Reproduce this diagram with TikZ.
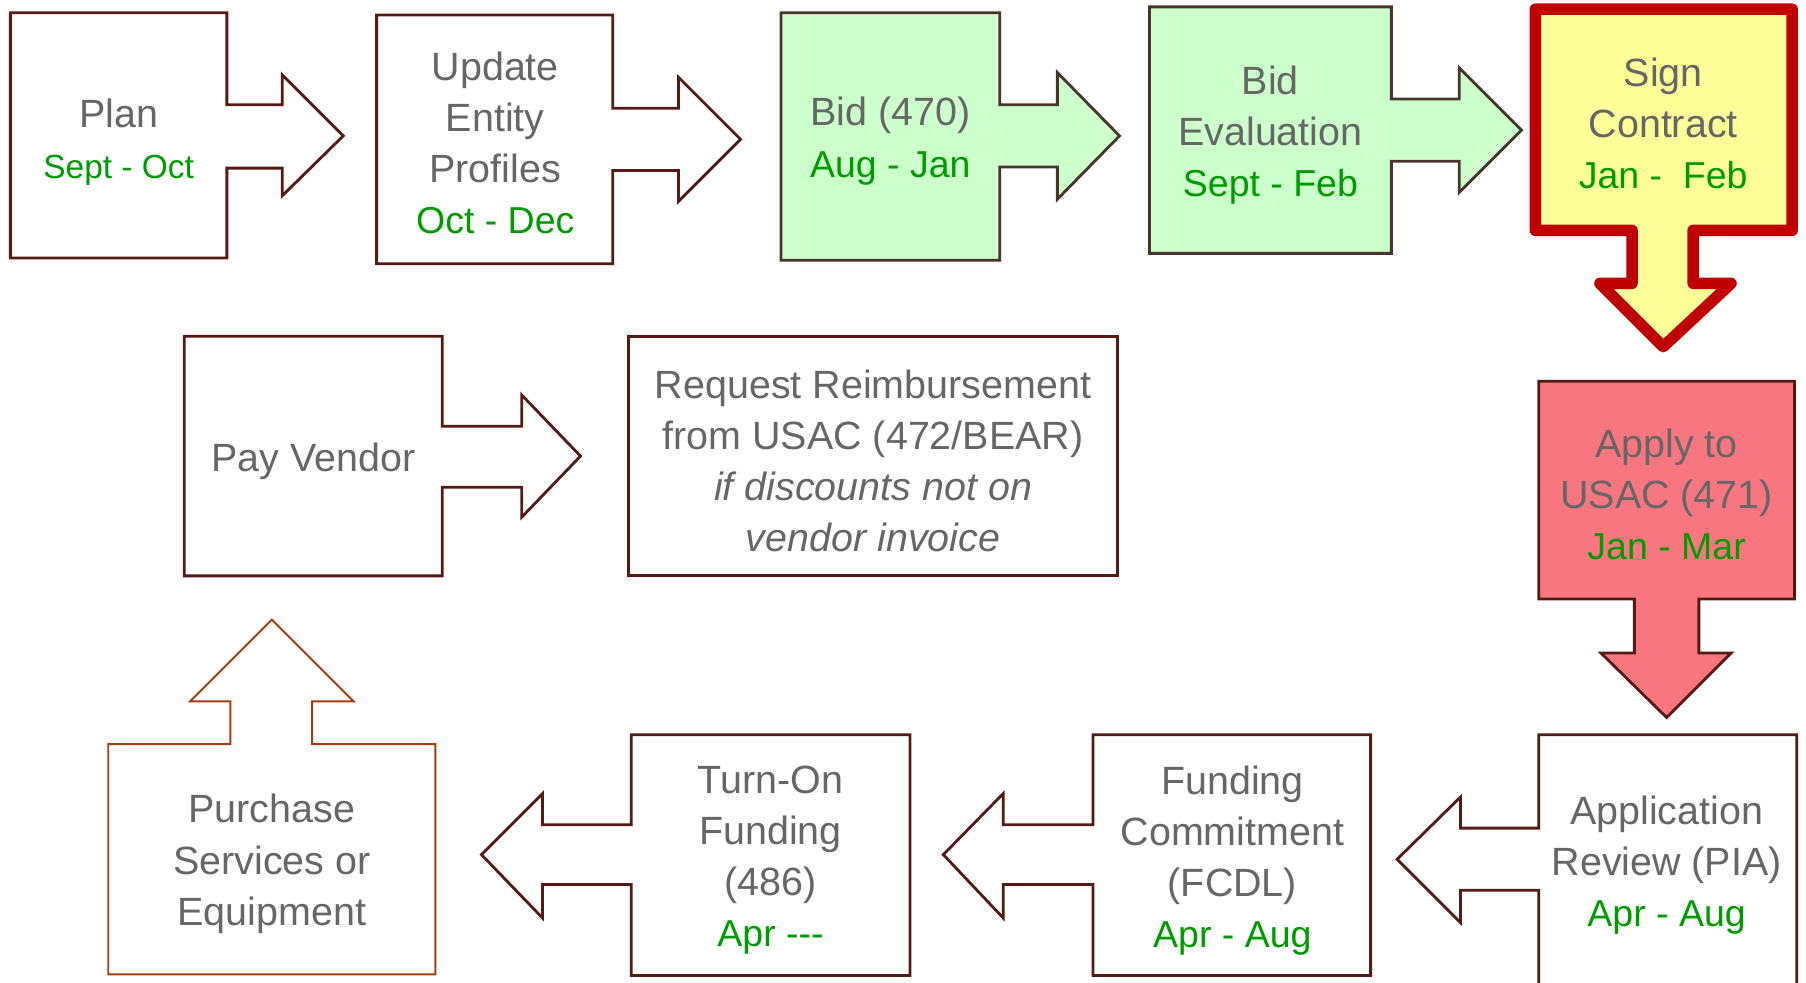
\documentclass[tikz,border=0pt]{standalone}
\usepackage{fontspec}
\setmainfont{Liberation Sans}
\definecolor{edge}{RGB}{85,26,22}
\definecolor{bidedge}{RGB}{72,52,44}
\definecolor{signred}{RGB}{192,0,0}
\definecolor{buyedge}{RGB}{165,60,20}
\definecolor{bidfill}{RGB}{204,255,204}
\definecolor{signfill}{RGB}{255,255,153}
\definecolor{applyfill}{RGB}{248,118,128}
\definecolor{textgray}{RGB}{102,102,102}
\definecolor{dategreen}{RGB}{0,155,0}
\newcommand{\dates}[2][21.3]{{\color{dategreen}\fontsize{#1}{29}\selectfont #2}}

\begin{document}
\begin{tikzpicture}[x=0.023cm,y=-0.023cm,line join=miter,
  callout/.style={draw=edge,line width=1.6pt},
  txt/.style={align=center,text=textgray,inner sep=0pt,font=\fontsize{22.4}{29}\selectfont}]
\useasboundingbox (0,0) rectangle (1568,852.6);
% top row, left to right
\draw[callout] (9,11) -- (197,11) -- (197,91) -- (245,91) -- (245,65) -- (298,118) -- (245,170) -- (245,146) -- (197,146) -- (197,224) -- (9,224) -- cycle;
\draw[callout] (327,13) -- (532,13) -- (532,94) -- (589,94) -- (589,67) -- (643,121) -- (589,175) -- (589,148) -- (532,148) -- (532,229) -- (327,229) -- cycle;
\draw[callout,draw=bidedge,fill=bidfill] (678,11) -- (868,11) -- (868,91) -- (918,91) -- (918,63) -- (972,118) -- (918,173) -- (918,145) -- (868,145) -- (868,226) -- (678,226) -- cycle;
\draw[callout,draw=bidedge,fill=bidfill] (998,6) -- (1208,6) -- (1208,86) -- (1267,86) -- (1267,59) -- (1321,113) -- (1267,167) -- (1267,140) -- (1208,140) -- (1208,220) -- (998,220) -- cycle;
\draw[callout,draw=signred,fill=signfill,line width=6.5pt,line join=round] (1333,8) -- (1556,8) -- (1556,200) -- (1470,200) -- (1470,246) -- (1503,246) -- (1444,301) -- (1389,246) -- (1417,246) -- (1417,200) -- (1333,200) -- cycle;
\node[txt] (plan) at (103,123.5) {Plan\\\dates[19]{Sept - Oct}};
\node[txt] (entity) at (430,124) {Update\\Entity\\Profiles\\\dates{Oct - Dec}};
\node[txt] (bid) at (773,122.5) {Bid (470)\\\dates{Aug - Jan}};
\node[txt] (evaluation) at (1103,117) {Bid\\Evaluation\\\dates{Sept - Feb}};
\node[txt] (sign) at (1444,107) {Sign\\Contract\\\dates{Jan -\ \ Feb}};
% right column
\draw[callout,fill=applyfill] (1336,331) -- (1558,331) -- (1558,520) -- (1475,520) -- (1475,567) -- (1503,567) -- (1447,623) -- (1390,567) -- (1419,567) -- (1419,520) -- (1336,520) -- cycle;
\node[txt] (apply) at (1447,429) {Apply to\\USAC (471)\\\dates{Jan - Mar}};
% bottom row, right to left
\draw[callout] (1560,880) -- (1336,880) -- (1336,773) -- (1268,773) -- (1268,801) -- (1213,746) -- (1268,692) -- (1268,719) -- (1336,719) -- (1336,638) -- (1560,638) -- cycle;
\draw[callout] (1190,638) -- (1190,847) -- (949,847) -- (949,768) -- (871,768) -- (871,797) -- (819,742) -- (871,689) -- (871,716) -- (949,716) -- (949,638) -- cycle;
\draw[callout] (790,638) -- (790,847) -- (548,847) -- (548,768) -- (471,768) -- (471,797) -- (418,742) -- (471,689) -- (471,716) -- (548,716) -- (548,638) -- cycle;
\draw[callout,draw=buyedge,line width=1.1pt] (94,646) -- (200,646) -- (200,609) -- (165,609) -- (236,538) -- (307,609) -- (271,609) -- (271,646) -- (378,646) -- (378,846) -- (94,846) -- cycle;
\node[txt] (review) at (1447,751) {Application\\Review (PIA)\\\dates{Apr - Aug}};
\node[txt] (fcdl) at (1070,747) {Funding\\Commitment\\(FCDL)\\\dates{Apr - Aug}};
\node[txt] (turnon) at (669,747) {Turn-On\\Funding\\(486)\\\dates{Apr -{}-{}-}};
\node[txt] (purchase) at (236,750) {Purchase\\Services or\\Equipment};
% middle row
\draw[callout] (160,292) -- (384,292) -- (384,370) -- (453,370) -- (453,343) -- (504,396) -- (453,449) -- (453,423) -- (384,423) -- (384,500) -- (160,500) -- cycle;
\draw[callout] (546,292) rectangle (970,500);
\node[txt] (pay) at (272,400.5) {Pay Vendor};
\node[txt] (reimburse) at (758,400) {Request Reimbursement\\from USAC (472/BEAR)\\\textit{if discounts not on}\\\textit{vendor invoice}};
\end{tikzpicture}
\end{document}
